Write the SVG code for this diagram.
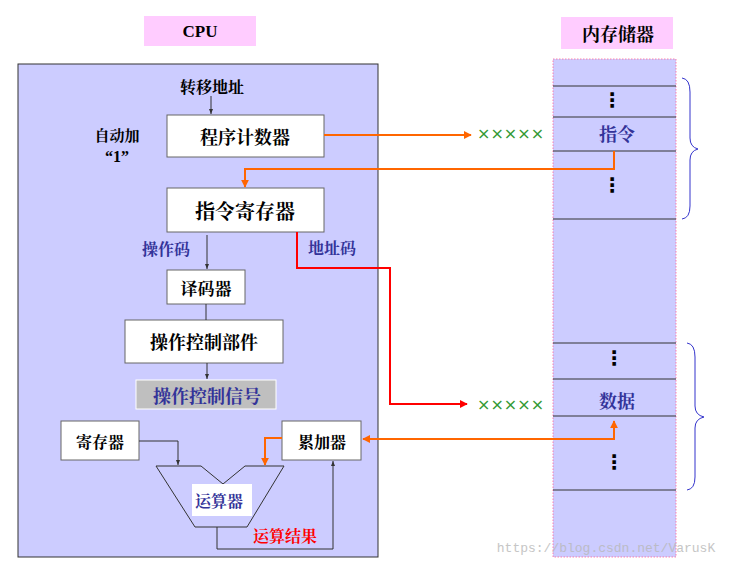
<svg xmlns="http://www.w3.org/2000/svg" width="736" height="573" viewBox="0 0 736 573">
<style>
.t{font-family:"Noto Serif CJK SC","Noto Sans CJK SC",sans-serif;font-weight:bold;text-anchor:middle;dominant-baseline:central;fill:#000}
.blue{fill:#333399}
.box{fill:#fff;stroke:#666;stroke-width:1}
.thin{fill:none;stroke:#333;stroke-width:1}
.org{fill:none;stroke:#FF6600;stroke-width:2}
.red{fill:none;stroke:#FF0000;stroke-width:2}
.mline{stroke:#333;stroke-width:1}
.lbl{fill:#FFCCFF}
.dots{font-family:"DejaVu Sans",sans-serif;font-weight:bold;font-size:20px;text-anchor:middle;dominant-baseline:central;fill:#000}
.xs{font-family:"DejaVu Sans",sans-serif;font-size:16px;fill:#339933;dominant-baseline:central}
.brace{fill:none;stroke:#3333CC;stroke-width:1}
</style>
<defs>
<marker id="ab" viewBox="0 0 10 10" refX="10" refY="5" markerWidth="5" markerHeight="5" orient="auto"><path d="M0,1 L10,5 L0,9 z" fill="#333"/></marker>
<marker id="ao" viewBox="0 0 10 10" refX="9" refY="5" markerWidth="4" markerHeight="4" orient="auto"><path d="M0,0 L10,5 L0,10 z" fill="#FF6600"/></marker>
<marker id="ar" viewBox="0 0 10 10" refX="9" refY="5" markerWidth="4" markerHeight="4" orient="auto"><path d="M0,0 L10,5 L0,10 z" fill="#FF0000"/></marker>
</defs>

<g id="cpu-label"><rect class="lbl" x="144" y="16" width="112" height="30"/><text x="200" y="31" style="font-family:'Liberation Serif',serif;font-weight:bold;font-size:17px;text-anchor:middle;dominant-baseline:central">CPU</text></g>
<g id="cpu"><rect x="18" y="64" width="360" height="493" fill="#CCCCFF" stroke="#333" stroke-width="1"/></g>

<g id="mem-label"><rect class="lbl" x="561" y="17" width="112" height="32"/><text class="t" x="618" y="33" font-size="18">内存储器</text></g>
<g id="memory">
<rect x="553" y="59" width="123" height="498" fill="#CCCCFF" stroke="#FF6699" stroke-width="0.8" stroke-dasharray="1.5,1.5"/>
<line class="mline" x1="553" y1="86" x2="676" y2="86"/>
<line class="mline" x1="553" y1="117" x2="676" y2="117"/>
<line class="mline" x1="553" y1="151" x2="676" y2="151"/>
<line class="mline" x1="553" y1="219" x2="676" y2="219"/>
<line class="mline" x1="553" y1="343" x2="676" y2="343" stroke="#777" stroke-width="1.3"/>
<line class="mline" x1="553" y1="379" x2="676" y2="379"/>
<line class="mline" x1="553" y1="416" x2="676" y2="416"/>
<line class="mline" x1="553" y1="490" x2="676" y2="490"/>
<text class="dots" x="612" y="100">⋮</text>
<text class="t blue" x="617" y="133" font-size="18">指令</text>
<text class="dots" x="612" y="185">⋮</text>
<text class="dots" x="614" y="358">⋮</text>
<text class="t blue" x="617" y="400" font-size="18">数据</text>
<text class="dots" x="614" y="462">⋮</text>
</g>
<g id="braces">
<path class="brace" d="M682,78 Q690,79 690,92 L690,138 Q690,147 698,149 Q690,151 690,160 L690,206 Q690,218 682,219"/>
<path class="brace" d="M687,343 Q695,344 695,357 L695,406 Q695,415 704,417 Q695,419 695,428 L695,477 Q695,489 687,490"/>
</g>

<g id="labels">
<text class="t" x="212" y="86" font-size="16">转移地址</text>
<text class="t" x="117" y="134" font-size="15">自动加</text>
<text x="117" y="156" style="font-family:'Liberation Serif',serif;font-weight:bold;font-size:16px;text-anchor:middle;dominant-baseline:central">“1”</text>
<text class="t blue" x="166" y="248" font-size="16">操作码</text>
<text class="t blue" x="332" y="247" font-size="16">地址码</text>
<text class="t" x="285" y="535" font-size="16" style="fill:#FF0000">运算结果</text>
<text class="xs" x="477" y="133">×××××</text>
<text class="xs" x="477" y="404">×××××</text>
</g>

<g id="pc"><rect class="box" x="167" y="115" width="157" height="42"/><text class="t" x="245" y="136" font-size="18">程序计数器</text></g>
<g id="ir"><rect class="box" x="167" y="188" width="157" height="44"/><text class="t" x="245" y="210" font-size="20">指令寄存器</text></g>
<g id="decoder"><rect class="box" x="167" y="270" width="78" height="34"/><text class="t" x="206" y="287" font-size="17">译码器</text></g>
<g id="ctrl"><rect class="box" x="125" y="320" width="158" height="43"/><text class="t" x="204" y="341" font-size="18">操作控制部件</text></g>
<g id="signal"><rect x="136" y="380" width="140" height="29" fill="#BFBFBF" stroke="#fff" stroke-width="1"/><text class="t blue" x="207" y="395" font-size="18">操作控制信号</text></g>
<g id="reg"><rect class="box" x="61" y="421" width="78" height="39"/><text class="t" x="100" y="441" font-size="16">寄存器</text></g>
<g id="acc"><rect class="box" x="282" y="421" width="79" height="39"/><text class="t" x="322" y="441" font-size="16">累加器</text></g>
<g id="alu"><path d="M156,466 L201,466 L223,484 L245,466 L284,466 L247,527 L195,527 Z" fill="none" stroke="#333" stroke-width="1"/><rect x="192" y="484" width="60" height="32" fill="#fff"/><text class="t blue" x="219" y="500" font-size="16">运算器</text></g>

<g id="connectors">
<line class="thin" x1="211" y1="96" x2="211" y2="114" marker-end="url(#ab)"/>
<path class="org" d="M324,135 L471,135" marker-end="url(#ao)"/>
<path class="org" d="M614,151 L614,169 L245,169 L245,187" marker-end="url(#ao)"/>
<path class="red" d="M297,232 L297,268 L390,268 L390,404 L467,404" marker-end="url(#ar)"/>
<line class="thin" x1="207" y1="235" x2="207" y2="269" marker-end="url(#ab)"/>
<line class="thin" x1="206" y1="304" x2="206" y2="320"/>
<line class="thin" x1="207" y1="363" x2="207" y2="379" marker-end="url(#ab)"/>
<path class="thin" d="M139,441 L178,441 L178,465" marker-end="url(#ab)"/>
<path class="org" d="M282,438 L265,438 L265,465" marker-end="url(#ao)"/>
<path class="thin" d="M217,527 L217,549 L333,549 L333,461" marker-end="url(#ab)"/>
<path class="org" d="M614,423 L614,439 L363,439" marker-end="url(#ao)"/>
<path class="org" d="M614,439 L614,421" marker-end="url(#ao)"/>
</g>

<text x="606" y="548" style="font-family:'Liberation Mono','DejaVu Sans Mono',monospace;font-size:13px;fill:#B8B8B8;opacity:0.8;text-anchor:middle;dominant-baseline:central">https://blog.csdn.net/VarusK</text>
</svg>
